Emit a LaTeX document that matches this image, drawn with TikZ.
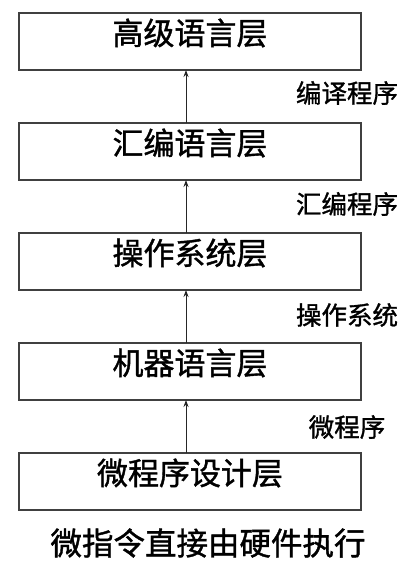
\documentclass[tikz,border=0pt]{standalone}
\usepackage{fontspec}
\newfontfamily\cjk{Noto Sans CJK SC}
\newfontfamily\cjkb[FakeBold=1.2]{Noto Sans CJK SC}
\usetikzlibrary{arrows.meta}
\begin{document}
\begin{tikzpicture}[x=1pt,y=-1pt,
  layerbox/.style={draw=black!75, line width=1.3pt},
  layertext/.style={font=\cjkb\fontsize{31}{31}\selectfont, inner sep=0pt, anchor=center},
  sidelabel/.style={font=\cjkb\fontsize{25.5}{25.5}\selectfont, inner sep=0pt, anchor=center},
  uparrow/.style={draw=black!85, line width=1pt, -{Stealth[length=7pt,width=5pt]}}]
\useasboundingbox[fill=white] (0,0) rectangle (417,568);
% boxes
\foreach \i/\name in {0/b1,1/b2,2/b3,3/b4,4/b5}{
  \path[layerbox] (19,13+110*\i) rectangle (361,70+110*\i);
  \coordinate (\name top) at (186,13+110*\i);
  \coordinate (\name bot) at (186,70+110*\i);
}
\node[layertext] (t1) at (190,33) {高级语言层};
\node[layertext] (t2) at (190,143) {汇编语言层};
\node[layertext] (t3) at (190,253) {操作系统层};
\node[layertext] (t4) at (190,363) {机器语言层};
\node[layertext] (t5) at (190,473) {微程序设计层};
% arrows
\draw[uparrow] (b2top) -- (b1bot);
\draw[uparrow] (b3top) -- (b2bot);
\draw[uparrow] (b4top) -- (b3bot);
\draw[uparrow] (b5top) -- (b4bot);
% labels
\node[sidelabel] (l1) at (347,93) {编译程序};
\node[sidelabel] (l2) at (347,204) {汇编程序};
\node[sidelabel] (l3) at (347,315) {操作系统};
\node[sidelabel] (l4) at (347,427) {微程序};
\node[font=\cjkb\fontsize{31.5}{31.5}\selectfont, inner sep=0pt] (bottom) at (208,543) {微指令直接由硬件执行};
\end{tikzpicture}
\end{document}
